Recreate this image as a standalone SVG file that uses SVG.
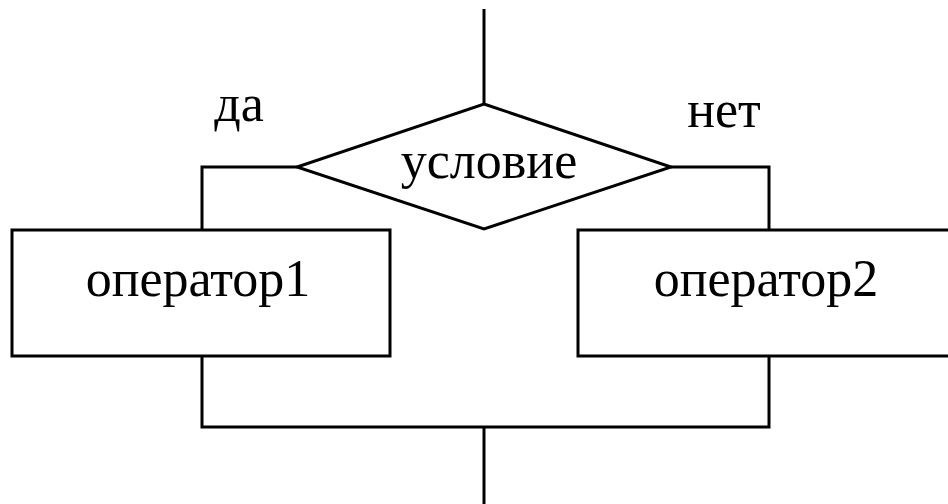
<svg xmlns="http://www.w3.org/2000/svg" width="948" height="504" viewBox="0 0 948 504">
<style>
.s{fill:none;stroke:#000;stroke-width:3;stroke-linejoin:miter}
.b{fill:#fff;stroke:#000;stroke-width:3}
.t{font-family:"Liberation Serif","Times New Roman",serif;font-size:52px;fill:#000;text-anchor:middle}
</style>
<rect width="948" height="504" fill="#fff"/>
<g id="connectors">
<line class="s" x1="484" y1="9" x2="484" y2="104"/>
<polyline class="s" points="297,167 202,167 202,230"/>
<polyline class="s" points="671,167 769,167 769,230"/>
<polyline class="s" points="202,356 202,427 769,427 769,356"/>
<line class="s" x1="484" y1="427" x2="484" y2="504"/>
</g>
<g id="cond">
<polygon class="b" points="484,104 671,167 484,229 297,167"/>
<text class="t" x="489" y="178">условие</text>
</g>
<g id="op1">
<rect class="b" x="12" y="230" width="378" height="126"/>
<text class="t" x="198" y="296">оператор1</text>
</g>
<g id="op2">
<rect class="b" x="578" y="230" width="380" height="126"/>
<text class="t" x="766" y="296">оператор2</text>
</g>
<g id="labels">
<text class="t" x="239" y="121">да</text>
<text class="t" x="724" y="127">нет</text>
</g>
</svg>
